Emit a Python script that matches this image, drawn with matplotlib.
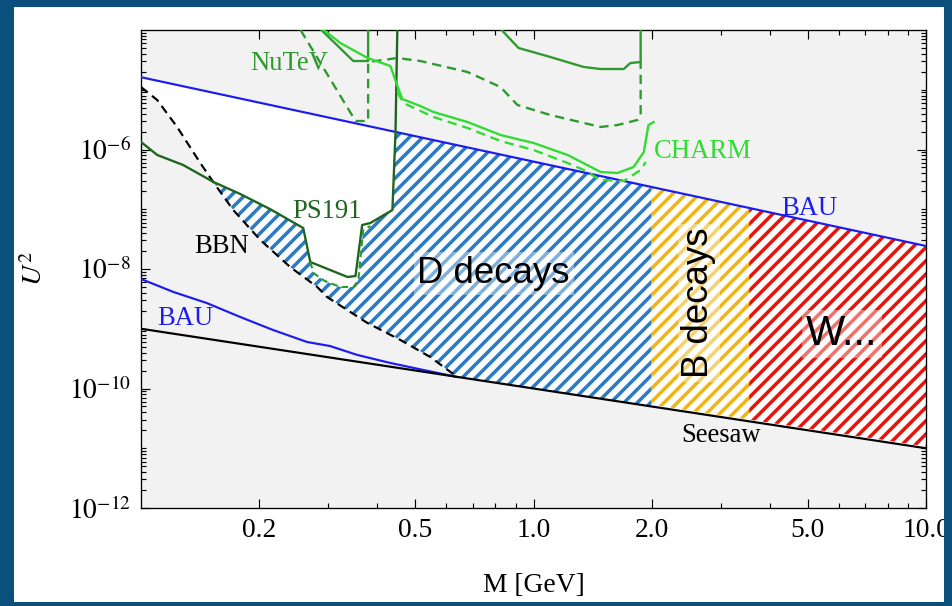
import numpy as np
import matplotlib.pyplot as plt
from matplotlib import ticker
from matplotlib.patches import Rectangle

plt.rcParams["font.family"] = ["Liberation Serif", "DejaVu Serif"]
plt.rcParams["mathtext.fontset"] = "stix"
plt.rcParams["hatch.linewidth"] = 2.1

# curves: mass in GeV, log10(U^2)
bau_up_m = [0.1, 10.0]
bau_up_lu = [-4.79, -7.615]

seesaw_m = [0.1, 10.0]
seesaw_lu = [-9.0, -11.0]

bau_lo_m = [0.1, 0.121, 0.147, 0.179, 0.217, 0.265, 0.303, 0.356, 0.432, 0.524, 0.64]
bau_lo_lu = [-8.167, -8.385, -8.569, -8.803, -9.021, -9.222, -9.289, -9.439, -9.573, -9.69, -9.808]

bbn_m = [0.1, 0.110, 0.1236, 0.1416, 0.1528, 0.1718, 0.2014, 0.2399, 0.2812, 0.2979,
         0.3776, 0.4581, 0.5458, 0.64]
bbn_lu = [-4.954, -5.172, -5.623, -6.226, -6.544, -7.013, -7.515, -7.967, -8.301, -8.469,
          -8.904, -9.188, -9.473, -9.81]

ps191_m = [0.1, 0.110, 0.128, 0.153, 0.179, 0.213, 0.259, 0.270, 0.336, 0.352, 0.366,
           0.384, 0.437, 0.445, 0.450]
ps191_lu = [-5.874, -6.092, -6.259, -6.544, -6.745, -6.996, -7.314, -7.883, -8.134, -8.117,
            -7.264, -7.230, -7.013, -5.724, -3.95]

ps191d_m = [0.270, 0.275, 0.294, 0.322, 0.348, 0.358, 0.368, 0.384]
ps191d_lu = [-7.883, -8.067, -8.201, -8.301, -8.301, -8.184, -7.347, -7.280]

nutev_a_m = [0.286, 0.3475, 0.379, 0.379]
nutev_a_lu = [-3.98, -4.519, -4.519, -3.98]
nutev_b_m = [0.824, 0.916, 1.104, 1.343, 1.483, 1.698, 1.766, 1.875, 1.875]
nutev_b_lu = [-3.98, -4.301, -4.452, -4.619, -4.653, -4.653, -4.552, -4.536, -3.98]
nutev_d_m = [0.255, 0.352, 0.379, 0.379, 0.450, 0.515, 0.679, 0.824, 0.910, 1.104, 1.483,
             1.637, 1.841, 1.875, 1.875]
nutev_d_lu = [-4.0, -5.523, -5.523, -4.536, -4.469, -4.519, -4.703, -4.954, -5.255, -5.423,
              -5.623, -5.590, -5.506, -5.423, -4.536]

charm_m = [0.290, 0.322, 0.378, 0.432, 0.450, 0.463, 0.515, 0.556, 0.679, 0.824, 1.0,
           1.222, 1.483, 1.637, 1.799, 1.910, 1.963, 2.023]
charm_lu = [-3.983, -4.218, -4.469, -4.603, -4.937, -5.155, -5.272, -5.372, -5.540, -5.757,
            -5.891, -6.092, -6.377, -6.393, -6.293, -6.042, -5.590, -5.540]
charm_d_m = [0.450, 0.466, 0.556, 0.679, 0.824, 1.0, 1.222, 1.343, 1.483, 1.698, 1.875, 1.932]
charm_d_lu = [-5.038, -5.222, -5.456, -5.640, -5.858, -6.008, -6.226, -6.343, -6.510,
              -6.527, -6.343, -6.209]

# mass ranges of the hatched regions
d_range = (0.1, 2.0)
b_range = (2.0, 5.18)
w_range = (3.54, 10.0)

x_ticks = [0.2, 0.5, 1.0, 2.0, 5.0, 10.0]
x_labels = ["0.2", "0.5", "1.0", "2.0", "5.0", "10.0"]
x_minor = [0.3, 0.4, 0.6, 0.7, 0.8, 0.9, 3, 4, 6, 7, 8, 9]
y_ticks = [1e-12, 1e-10, 1e-8, 1e-6]
y_labels = [r"$10^{-12}$", r"$10^{-10}$", r"$10^{-8}$", r"$10^{-6}$"]

blue = "#1c1cf0"
dkgreen = "#1f641f"
green = "#2e9a2e"
bright = "#30dc30"

fig = plt.figure(figsize=(952 / 120, 606 / 120), dpi=120)
fig.patch.set_facecolor("white")
ax = fig.add_axes([141 / 952, 1 - 508 / 606, 785 / 952, 478 / 606])
ax.set_facecolor("#f2f2f2")
ax.set_xscale("log")
ax.set_yscale("log")

lg = np.linspace(-1, 1, 4001)
m = 10 ** lg


def on_grid(ms, lus, left=np.nan, right=np.nan):
    return np.interp(lg, np.log10(ms), lus, left=left, right=right)


top_bau = on_grid(bau_up_m, bau_up_lu)
low = np.maximum(on_grid(seesaw_m, seesaw_lu), on_grid(bbn_m, bbn_lu, right=-30))
lim = np.minimum(on_grid(ps191_m, ps191_lu, right=0),
                 on_grid(ps191d_m, ps191d_lu, left=0, right=0))
top_d = np.minimum(top_bau, lim)

# allowed region is white
ax.fill_between(m, 10 ** low, 10 ** top_bau, where=top_bau > low,
                color="white", lw=0, zorder=1)

# hatched regions
sel = (m >= d_range[0]) & (m <= d_range[1]) & (top_d > low)
ax.fill_between(m, 10 ** low, 10 ** top_d, where=sel, facecolor="white",
                edgecolor="#2b7bc4", hatch="///", lw=0, zorder=1.5)
sel = (m >= b_range[0]) & (m <= b_range[1])
ax.fill_between(m, 10 ** (low + 0.03), 10 ** top_bau, where=sel, facecolor="white",
                edgecolor="#f0b414", hatch="///", lw=0, zorder=1.6)
sel = (m >= w_range[0]) & (m <= w_range[1])
ax.fill_between(m, 10 ** (low + 0.03), 10 ** top_bau, where=sel, facecolor="white",
                edgecolor="#e8140c", hatch="///", lw=0, zorder=1.7)


def curve(ms, lus, **kw):
    ax.plot(ms, 10 ** np.array(lus), zorder=3, **kw)


curve(bau_up_m, bau_up_lu, color=blue, lw=1.3)
curve(bau_lo_m, bau_lo_lu, color=blue, lw=1.3)
curve(seesaw_m, seesaw_lu, color="black", lw=1.3)
curve(bbn_m, bbn_lu, color="black", lw=1.3, dashes=(4, 2.5))
curve(ps191_m, ps191_lu, color=dkgreen, lw=1.4)
curve(ps191d_m, ps191d_lu, color=green, lw=1.3, dashes=(3, 2))
curve(nutev_a_m, nutev_a_lu, color=green, lw=1.4)
curve(nutev_b_m, nutev_b_lu, color=green, lw=1.4)
curve(nutev_d_m, nutev_d_lu, color=green, lw=1.4, dashes=(4, 2.5))
curve(charm_m, charm_lu, color=bright, lw=1.4)
curve(charm_d_m, charm_d_lu, color=bright, lw=1.4, dashes=(4, 2.5))

# curve labels
lab = dict(fontsize=16, ha="center", va="baseline", zorder=4)
ax.text(0.239, 2.14e-5, "NuTeV", color=green, **lab)
ax.text(0.298, 7.15e-8, "PS191", color=dkgreen, **lab)
ax.text(0.160, 1.85e-8, "BBN", color="black", **lab)
ax.text(0.1294, 1.16e-9, "BAU", color=blue, **lab)
ax.text(5.03, 8.0e-8, "BAU", color=blue, **lab)
ax.text(2.70, 7.2e-7, "CHARM", color=bright, **lab)
ax.text(3.0, 1.27e-11, "Seesaw", color="black", **lab)

box = dict(boxstyle="square,pad=0.1", fc="white", ec="none", alpha=0.4)
ax.text(0.791, 5.84e-9, "D decays", family="Liberation Sans", fontsize=22,
        ha="center", va="baseline", bbox=box, zorder=4)
ax.text(2.64, 2.7e-9, "B decays", family="Liberation Sans", fontsize=22,
        rotation=90, ha="center", va="center", bbox=box, zorder=4)
ax.text(6.11, 5.35e-10, "W...", family="Liberation Sans", fontsize=25,
        ha="center", va="baseline", bbox=box, zorder=4)

ax.set_xlim(0.1, 10)
ax.set_ylim(1e-12, 1e-4)
ax.xaxis.set_major_locator(ticker.FixedLocator(x_ticks))
ax.xaxis.set_major_formatter(ticker.FixedFormatter(x_labels))
ax.xaxis.set_minor_locator(ticker.FixedLocator(x_minor))
ax.xaxis.set_minor_formatter(ticker.NullFormatter())
ax.yaxis.set_major_locator(ticker.FixedLocator(y_ticks))
ax.yaxis.set_major_formatter(ticker.FixedFormatter(y_labels))
y_minor = [s * 10.0 ** d for d in range(-12, -4) for s in range(1, 10)
           if not (s == 1 and d % 2 == 0)]
ax.yaxis.set_minor_locator(ticker.FixedLocator(y_minor))
ax.yaxis.set_minor_formatter(ticker.NullFormatter())

ax.tick_params(which="both", direction="in", top=True, right=True, width=0.7,
               labelsize=16.5)
ax.tick_params(which="major", length=5.5)
ax.tick_params(which="minor", length=2.8)
ax.tick_params(axis="x", pad=6)
ax.tick_params(axis="y", pad=6)
for sp in ax.spines.values():
    sp.set_linewidth(0.8)

ax.set_xlabel("M [GeV]", fontsize=16.5)
ax.xaxis.set_label_coords(0.5, -0.135)
ax.set_ylabel(r"$U^2$", fontsize=17)
ax.yaxis.set_label_coords(-0.118, 0.5)

# dark slide border around the white panel
edge = "#0b4f7c"
for x0, y0, w, h in [(0, 0, 14 / 952, 1), (944 / 952, 0, 8 / 952, 1),
                     (0, 1 - 7 / 606, 1, 7 / 606), (0, 0, 1, 4 / 606)]:
    fig.add_artist(Rectangle((x0, y0), w, h, transform=fig.transFigure,
                             facecolor=edge, edgecolor="none", zorder=10))

fig.savefig("out.png", dpi=120)
